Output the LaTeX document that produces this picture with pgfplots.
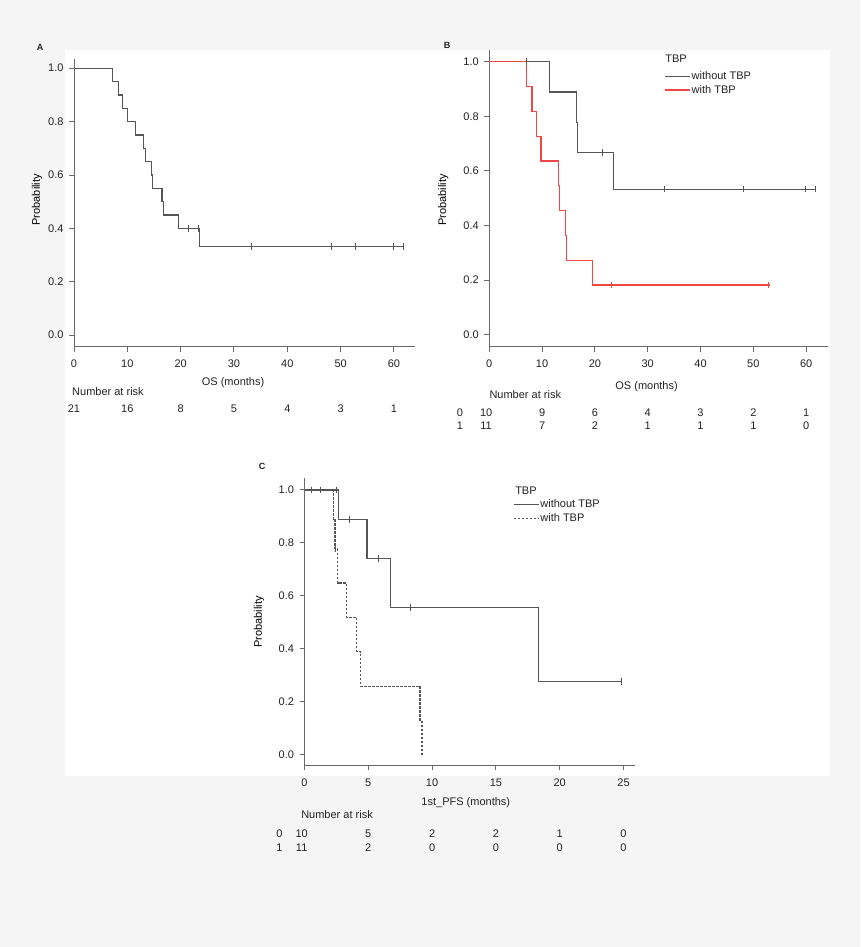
\documentclass[border=0pt]{standalone}
\usepackage{fontspec}
\setmainfont{Liberation Sans}
\usepackage{pgfplots}
\pgfplotsset{compat=1.18}
\definecolor{bg}{RGB}{245,245,245}
\definecolor{ax}{RGB}{105,105,105}
\definecolor{ln}{RGB}{85,85,85}
\definecolor{rd}{RGB}{240,70,70}
\definecolor{tx}{RGB}{35,35,35}
\pgfplotsset{
 km/.style={
  scale only axis, axis lines=left,
  axis line style={-, draw=ax, line width=1pt},
  tick align=outside, major tick length=5pt,
  tick style={draw=ax, line width=1pt},
  clip=false, font=\fontsize{11}{13}\selectfont,
  ytick={0,0.2,0.4,0.6,0.8,1}, yticklabels={0.0,0.2,0.4,0.6,0.8,1.0},
  xticklabel style={yshift=-5pt, text=tx}, yticklabel style={xshift=-2pt, text=tx},
  label style={text=tx},
  ylabel={Probability},
  every axis y label/.style={at={(axis description cs:#1)}, rotate=90, anchor=center},
  anchor=south west,
  legend cell align=left,
  legend image code/.code={\draw[##1] (0pt,0pt) -- (19pt,0pt); \path (0pt,0pt) -- (25pt,0pt);},
 },
 cens/.style={only marks, mark=|, mark size=3.3pt, mark options={line width=1pt, solid}, forget plot},
 kmline/.style={const plot, line width=1.2pt},
 kmleg/.style={legend style={at={(axis cs:#1)}, anchor=north west, draw=none, fill=none,
   inner sep=0pt, row sep=1.5pt, font=\fontsize{11}{13}\selectfont,
   nodes={inner sep=1pt, text height=8pt, text depth=2pt, text=tx}}},
}
\begin{document}
\begin{tikzpicture}
\fill[bg] (0pt,0pt) rectangle (860pt,947pt);
\fill[white] (65pt,171pt) rectangle (830pt,897pt);
\node[font=\fontsize{9}{11}\selectfont\bfseries, text=tx] at (40pt,900pt) {A};
\node[font=\fontsize{9}{11}\selectfont\bfseries, text=tx] at (447pt,902pt) {B};
\node[font=\fontsize{9}{11}\selectfont\bfseries, text=tx] at (262pt,481pt) {C};

% ---------------- Panel A ----------------
\begin{axis}[km={-0.1084,0.51}, at={(74pt,600.3pt)}, width=341.3pt, height=288.1pt,
  xmin=0, xmax=64, ymin=-0.043, ymax=1.036,
  xtick={0,10,20,30,40,50,60}, xticklabels={0,10,20,30,40,50,60},
  xlabel={OS (months)},
  xlabel style={at={(axis description cs:0.466,-0.126)}, anchor=center}]
\addplot[kmline, ln] coordinates {
 (0,1) (7.25,0.95) (8.3,0.90) (9.12,0.85) (10.1,0.80) (11.6,0.75) (13.1,0.70)
 (13.4,0.65) (14.6,0.60) (14.75,0.55) (16.5,0.50) (16.75,0.45) (19.56,0.40)
 (23.6,0.333) (61.8,0.333)};
\addplot[cens, ln] coordinates {(21.5,0.4) (23.4,0.4) (33.2,0.333) (48.3,0.333) (52.8,0.333) (59.9,0.333) (61.8,0.333)};
\node[anchor=west, inner sep=0pt, text=tx] at (axis cs:-0.375,-0.212) {Number at risk};
\node[text=tx] at (axis cs:0,-0.276) {21};
\node[text=tx] at (axis cs:10,-0.276) {16};
\node[text=tx] at (axis cs:20,-0.276) {8};
\node[text=tx] at (axis cs:30,-0.276) {5};
\node[text=tx] at (axis cs:40,-0.276) {4};
\node[text=tx] at (axis cs:50,-0.276) {3};
\node[text=tx] at (axis cs:60,-0.276) {1};
\end{axis}

% ---------------- Panel B ----------------
\begin{axis}[km={-0.1357,0.494}, at={(489.3pt,600.3pt)}, width=339pt, height=296.8pt,
  xmin=0, xmax=64.2, ymin=-0.044, ymax=1.043,
  xtick={0,10,20,30,40,50,60}, xticklabels={0,10,20,30,40,50,60},
  xlabel={OS (months)},
  xlabel style={at={(axis description cs:0.464,-0.1348)}, anchor=center},
  kmleg={33.14,0.968}]
\addplot[kmline, ln] coordinates {
 (0,1) (11.4,0.889) (16.5,0.778) (16.7,0.667) (23.5,0.533) (61.8,0.533)};
\addlegendentry{without TBP}
\addplot[cens, ln] coordinates {(7.07,1) (21.4,0.667) (33.2,0.533) (48.2,0.533) (59.8,0.533) (61.8,0.533)};
\addplot[kmline, rd] coordinates {
 (0,1) (7.07,0.909) (8.1,0.818) (8.97,0.727) (9.8,0.636) (13.07,0.545)
 (13.27,0.455) (14.45,0.364) (14.65,0.273) (19.5,0.182) (53.1,0.182)};
\addlegendentry{with TBP}
\addplot[cens, rd] coordinates {(23.2,0.182) (52.9,0.182)};
\node[anchor=west, inner sep=0pt, text=tx] at (axis cs:33.3,1.009) {TBP};
\node[anchor=west, inner sep=0pt, text=tx] at (axis cs:0,-0.218) {Number at risk};
\node[text=tx] at (axis cs:-5.55,-0.284) {0};
\node[text=tx] at (axis cs:-0.6,-0.284) {10};
\node[text=tx] at (axis cs:10,-0.284) {9};
\node[text=tx] at (axis cs:20,-0.284) {6};
\node[text=tx] at (axis cs:30,-0.284) {4};
\node[text=tx] at (axis cs:40,-0.284) {3};
\node[text=tx] at (axis cs:50,-0.284) {2};
\node[text=tx] at (axis cs:60,-0.284) {1};
\node[text=tx] at (axis cs:-5.55,-0.334) {1};
\node[text=tx] at (axis cs:-0.6,-0.334) {11};
\node[text=tx] at (axis cs:10,-0.334) {7};
\node[text=tx] at (axis cs:20,-0.334) {2};
\node[text=tx] at (axis cs:30,-0.334) {1};
\node[text=tx] at (axis cs:40,-0.334) {1};
\node[text=tx] at (axis cs:50,-0.334) {1};
\node[text=tx] at (axis cs:60,-0.334) {0};
\end{axis}

% ---------------- Panel C ----------------
\begin{axis}[km={-0.1377,0.5}, at={(304.5pt,181.7pt)}, width=330.5pt, height=287pt,
  xmin=0, xmax=25.9, ymin=-0.039, ymax=1.044,
  xtick={0,5,10,15,20,25}, xticklabels={0,5,10,15,20,25},
  xlabel={1st\_PFS (months)},
  xlabel style={at={(axis description cs:0.488,-0.130)}, anchor=center},
  kmleg={16.34,0.968}]
\addplot[kmline, ln, dash pattern=on 2.5pt off 1.5pt, forget plot] coordinates {
 (0,1) (2.26,0.889) (2.39,0.778) (2.6,0.649) (3.31,0.519) (4.09,0.389)
 (4.4,0.259) (9.05,0.130) (9.2,0.0)};
\addplot[cens, ln] coordinates {(2.44,0.778)};
\addplot[kmline, ln, forget plot] coordinates {
 (0,1) (2.68,0.889) (4.9,0.741) (6.76,0.556) (18.34,0.278) (24.9,0.278)};
\addplot[cens, ln] coordinates {(0.55,1) (1.23,1) (2.52,1) (3.55,0.889) (5.82,0.741) (8.32,0.556) (24.87,0.278)};
\addlegendimage{ln, line width=1.2pt}
\addlegendentry{without TBP}
\addlegendimage{ln, line width=1.2pt, dash pattern=on 2.5pt off 1.5pt}
\addlegendentry{with TBP}
\node[anchor=west, inner sep=0pt, text=tx] at (axis cs:16.5,0.997) {TBP};
\node[anchor=west, inner sep=0pt, text=tx] at (axis cs:-0.27,-0.226) {Number at risk};
\node[text=tx] at (axis cs:-1.97,-0.298) {0};
\node[text=tx] at (axis cs:-0.22,-0.298) {10};
\node[text=tx] at (axis cs:5,-0.298) {5};
\node[text=tx] at (axis cs:10,-0.298) {2};
\node[text=tx] at (axis cs:15,-0.298) {2};
\node[text=tx] at (axis cs:20,-0.298) {1};
\node[text=tx] at (axis cs:25,-0.298) {0};
\node[text=tx] at (axis cs:-1.97,-0.350) {1};
\node[text=tx] at (axis cs:-0.22,-0.350) {11};
\node[text=tx] at (axis cs:5,-0.350) {2};
\node[text=tx] at (axis cs:10,-0.350) {0};
\node[text=tx] at (axis cs:15,-0.350) {0};
\node[text=tx] at (axis cs:20,-0.350) {0};
\node[text=tx] at (axis cs:25,-0.350) {0};
\end{axis}
\pgfresetboundingbox
\path[use as bounding box] (0pt,0pt) rectangle (860pt,947pt);
\end{tikzpicture}
\end{document}
